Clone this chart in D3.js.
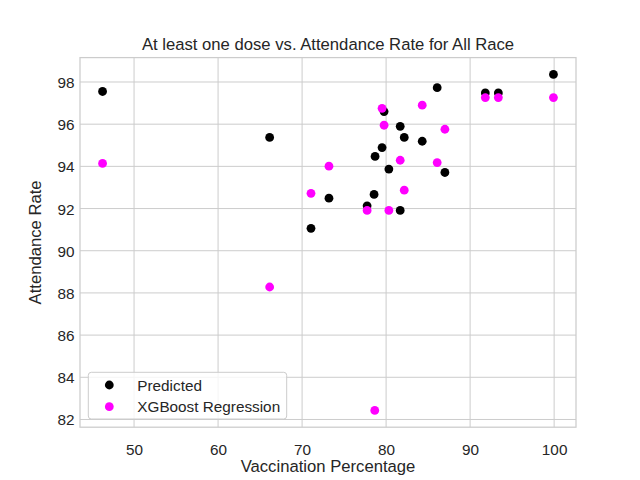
<!DOCTYPE html>
<html>
<head>
<meta charset="utf-8">
<script src="https://cdn.jsdelivr.net/npm/d3@7"></script>
<style>
  html, body { margin: 0; padding: 0; background: #fff; }
  svg { display: block; }
  text { font-family: "Liberation Sans", Arial, sans-serif; fill: #262626; }
</style>
</head>
<body>
<svg id="chart" width="640" height="480"></svg>
<script>
// Data
const predictedX = [46.25, 66.14, 71.06, 73.2, 77.74, 78.57, 78.69, 79.52, 79.76, 80.33, 81.68, 81.68, 82.16, 84.3, 86.08, 87.0, 91.81, 93.36, 99.92];
const predictedY = [97.55, 95.37, 91.06, 92.49, 92.13, 92.67, 94.47, 94.89, 96.6, 93.87, 95.9, 91.91, 95.37, 95.19, 97.73, 93.71, 97.48, 97.48, 98.36];
const xgbX = [46.25, 66.14, 71.06, 73.2, 77.74, 78.65, 79.52, 79.76, 80.33, 81.68, 82.16, 84.3, 86.08, 87.0, 91.81, 93.36, 99.92];
const xgbY = [94.14, 88.28, 92.72, 94.01, 91.91, 82.43, 96.75, 95.95, 91.91, 94.29, 92.87, 96.9, 94.18, 95.76, 97.26, 97.26, 97.26];
const xTicks = [50, 60, 70, 80, 90, 100];
const yTicks = [82, 84, 86, 88, 90, 92, 94, 96, 98];
const seriesNames = ["Predicted", "XGBoost Regression"];
const seriesColors = ["#000000", "#ff00ff"];
const titleText = "At least one dose vs. Attendance Rate for All Race";
const xLabel = "Vaccination Percentage";
const yLabel = "Attendance Rate";

const svg = d3.select("#chart");
const L = 80, R = 576, T = 57.6, B = 427.2;

function padded(vals) {
  const lo = d3.min(vals), hi = d3.max(vals), r = hi - lo;
  return [lo - 0.05 * r, hi + 0.05 * r];
}
const x = d3.scaleLinear().domain(padded(predictedX.concat(xgbX))).range([L, R]);
const y = d3.scaleLinear().domain(padded(predictedY.concat(xgbY))).range([B, T]);

// grid
const g = svg.append("g");
g.selectAll(".vg").data(xTicks).enter().append("line")
  .attr("x1", d => x(d)).attr("x2", d => x(d)).attr("y1", T).attr("y2", B)
  .attr("stroke", "#cccccc").attr("stroke-width", 1);
g.selectAll(".hg").data(yTicks).enter().append("line")
  .attr("x1", L).attr("x2", R).attr("y1", d => y(d)).attr("y2", d => y(d))
  .attr("stroke", "#cccccc").attr("stroke-width", 1);

// axes with library
const xAxis = d3.axisBottom(x).tickValues(xTicks).tickSize(0).tickPadding(0).tickFormat(d3.format("d"));
const yAxis = d3.axisLeft(y).tickValues(yTicks).tickSize(0).tickPadding(0).tickFormat(d3.format("d"));
const gx = svg.append("g").attr("transform", `translate(0,${B})`).call(xAxis);
gx.select(".domain").remove();
gx.selectAll("text").attr("font-size", "15.3px").attr("fill", "#262626")
  .attr("dy", null).attr("y", 27.5).style("font-family", '"Liberation Sans", Arial, sans-serif');
const gy = svg.append("g").attr("transform", `translate(${L},0)`).call(yAxis);
gy.select(".domain").remove();
gy.selectAll("text").attr("font-size", "15.3px").attr("fill", "#262626")
  .attr("x", -5.5).attr("dy", "0.36em").style("font-family", '"Liberation Sans", Arial, sans-serif');

// spines
svg.append("rect").attr("x", L).attr("y", T).attr("width", R - L).attr("height", B - T)
  .attr("fill", "none").attr("stroke", "#cccccc").attr("stroke-width", 1.25);

// points
const series = [
  { xs: predictedX, ys: predictedY },
  { xs: xgbX, ys: xgbY }
];
series.forEach((s, i) => {
  svg.append("g").selectAll("circle").data(s.xs.map((v, k) => [v, s.ys[k]])).enter()
    .append("circle")
    .attr("cx", d => x(d[0])).attr("cy", d => y(d[1])).attr("r", 4.4)
    .attr("fill", seriesColors[i]);
});

// title & labels
svg.append("text").attr("x", (L + R) / 2).attr("y", 49.5).attr("text-anchor", "middle")
  .attr("font-size", "16.67px").text(titleText);
svg.append("text").attr("x", (L + R) / 2).attr("y", 472).attr("text-anchor", "middle")
  .attr("font-size", "16.67px").text(xLabel);
svg.append("text").attr("transform", `translate(41,${(T + B) / 2}) rotate(-90)`)
  .attr("text-anchor", "middle").attr("font-size", "16.67px").text(yLabel);

// legend
const lg = svg.append("g");
lg.append("rect").attr("x", 88.3).attr("y", 372.3).attr("width", 198.4).attr("height", 46.7)
  .attr("rx", 3).attr("fill", "#ffffff").attr("fill-opacity", 0.8)
  .attr("stroke", "#cccccc").attr("stroke-width", 1);
seriesNames.forEach((n, i) => {
  const cy = 385 + i * 21.7;
  lg.append("circle").attr("cx", 109.3).attr("cy", cy).attr("r", 4.4).attr("fill", seriesColors[i]);
  lg.append("text").attr("x", 137.3).attr("y", cy).attr("dy", "0.36em")
    .attr("font-size", "15.3px").text(n);
});
</script>
</body>
</html>
